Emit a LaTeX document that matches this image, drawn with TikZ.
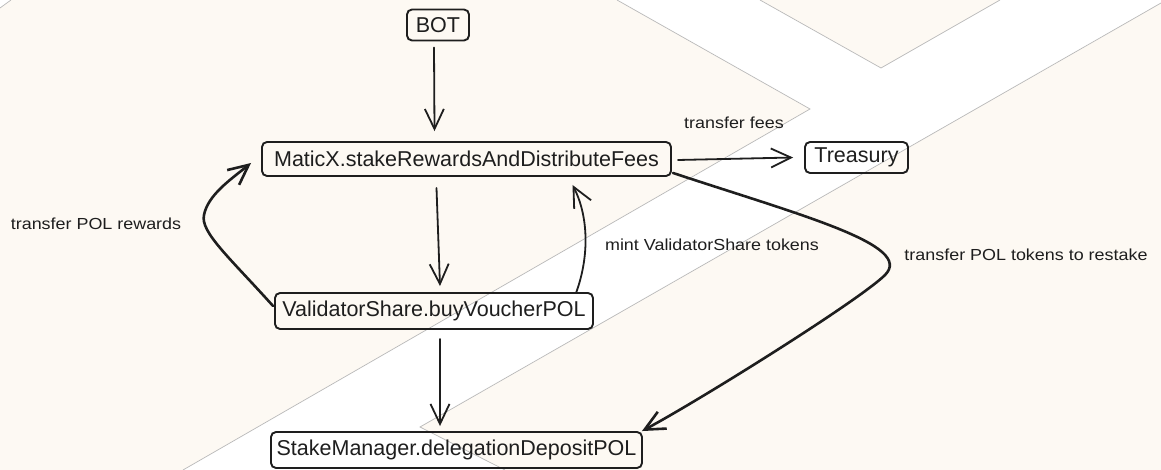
\documentclass[tikz,border=0pt]{standalone}
\usepackage{fontspec}
\setmainfont{Liberation Sans}
\newfontfamily\lblfont[FakeStretch=1.12]{Liberation Sans}
\usetikzlibrary{arrows.meta}
\definecolor{cream}{RGB}{253,249,243}
\definecolor{ink}{RGB}{30,30,30}
\definecolor{edge}{RGB}{185,185,185}
\tikzset{
  box/.style={draw=ink, line width=1.9bp, rounded corners=5bp, inner sep=0pt,
    font=\fontsize{21.5bp}{24bp}\selectfont, text=ink},
  lbl/.style={inner sep=0pt, font=\lblfont\fontsize{16bp}{19bp}\selectfont, text=ink},
  arr/.style={draw=ink, line width=1.8bp, line cap=round,
    -{Straight Barb[length=20bp,width=19bp]}},
  thickarr/.style={arr, line width=2.6bp},
  bandedge/.style={draw=edge, line width=0.7bp}
}
\begin{document}
\begin{tikzpicture}[x=1bp, y=-1bp]
\useasboundingbox (0,0) rectangle (1161,470);
% background
\fill[cream] (0,0) rectangle (1161,470);
\fill[white] (617,0) -- (760,0) -- (881,68) -- (1000,0) -- (1161,0) -- (1161,3)
  -- (420,427) -- (505,470) -- (183,470) -- (810,109) -- cycle;
\fill[white] (0,0) -- (11,0) -- (0,8) -- cycle;
\draw[bandedge] (617,0) -- (810,109) -- (183,470);
\draw[bandedge] (760,0) -- (881,68) -- (1000,0);
\draw[bandedge] (1161,3) -- (420,427) -- (505,470);
\draw[bandedge] (11,0) -- (0,8);
% nodes
\node[box, minimum width=62bp, minimum height=31bp] (bot) at (438,25) {BOT};
\node[box, minimum width=409bp, minimum height=34bp] (matic) at (466.5,159) {MaticX.stakeRewardsAndDistributeFees};
\node[box, minimum width=103bp, minimum height=31bp] (treas) at (856.5,157.5) {Treasury};
\node[box, minimum width=318bp, minimum height=36bp] (vs) at (434,311) {ValidatorShare.buyVoucherPOL};
\node[box, minimum width=371bp, minimum height=36bp] (sm) at (456.5,450) {StakeManager.delegationDepositPOL};
% labels
\node[lbl] (lfees) at (734,123) {transfer fees};
\node[lbl] (lrew) at (96,224) {transfer POL rewards};
\node[lbl] (lmint) at (712,245) {mint ValidatorShare tokens};
\node[lbl] (lrest) at (1026,255) {transfer POL tokens to restake};
% connectors
\draw[arr] ([xshift=-4bp,yshift=-6bp]bot.south) -- ([xshift=-32bp,yshift=10bp]matic.north);
\draw[arr] ([xshift=6bp,yshift=-1bp]matic.east) -- ([xshift=-11bp]treas.west);
\draw[arr] ([xshift=-30bp,yshift=-11bp]matic.south) -- ([xshift=6bp,yshift=6bp]vs.north);
\draw[arr] ([xshift=6bp,yshift=-9bp]vs.south) -- ([xshift=-16.5bp,yshift=5bp]sm.north);
\draw[arr] ([xshift=142bp,yshift=-1bp]vs.north) .. controls (590,255) and (588,215) .. ([xshift=106bp,yshift=-8bp]matic.south);
\draw[thickarr] ([xshift=-1bp,yshift=5bp]vs.west) .. controls (230,258) and (200,232) .. (204,215)
  .. controls (208,195) and (230,180) .. ([xshift=-10bp,yshift=-4bp]matic.west);
\draw[thickarr] ([xshift=1bp,yshift=4bp]matic.south east) .. controls (800,215) and (915,245) .. (885,275)
  .. controls (860,300) and (700,400) .. ([xshift=-1bp]sm.north east);
\end{tikzpicture}
\end{document}
